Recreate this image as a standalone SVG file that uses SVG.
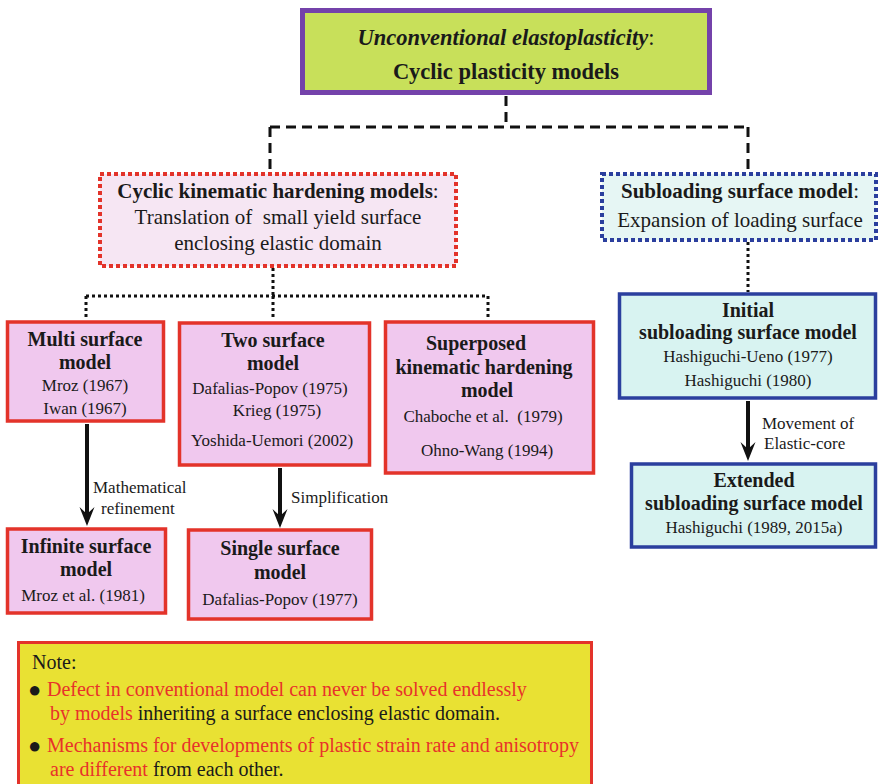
<svg xmlns="http://www.w3.org/2000/svg" width="880" height="784" viewBox="0 0 880 784" font-family="'Liberation Serif', 'DejaVu Serif', serif">
<defs>
<style>
text{font-family:'Liberation Serif','DejaVu Serif',serif;fill:#1a1a1a;text-anchor:middle}
.b{font-weight:bold}
.h{font-size:20px;font-weight:bold}
.t{font-size:17px}
.l{font-size:17px;text-anchor:start}
.n{font-size:20px;text-anchor:start}
.r{fill:#e8322a}
.pink{fill:#f0c8ee;stroke:#e3332a;stroke-width:3.5}
.cyan{fill:#d8f3f1;stroke:#2b3f9e;stroke-width:3.5}
.dash{fill:none;stroke:#111;stroke-width:3;stroke-dasharray:10 6}
.dot{fill:none;stroke:#111;stroke-width:3;stroke-dasharray:3 3}
.arr{stroke:#111;stroke-width:4;marker-end:url(#ah)}
</style>
<marker id="ah" markerUnits="userSpaceOnUse" markerWidth="20" markerHeight="18" viewBox="0 0 20 18" refX="7" refY="9" orient="auto">
<path d="M19 9 L0 1.5 L7 9 L0 16.5 Z" fill="#111"/>
</marker>
</defs>

<g id="connectors">
<path class="dash" d="M506 96 V127 M270 127 H748 M270 127 V170 M748 127 V170"/>
<path class="dot" d="M273 268 V296 M86 296 H488 M86 296 V320 M273 296 V320 M488 296 V320"/>
<path class="dot" d="M748 242 V292"/>
<line class="arr" x1="87" y1="424" x2="87" y2="514"/>
<line class="arr" x1="280" y1="468" x2="280" y2="516"/>
<line class="arr" x1="748" y1="401" x2="748" y2="449"/>
<text class="l" x="93" y="493">Mathematical</text>
<text class="l" x="101" y="514">refinement</text>
<text class="l" x="291" y="503">Simplification</text>
<text class="l" x="762" y="429">Movement of</text>
<text class="l" x="764" y="449">Elastic-core</text>
</g>

<g id="top">
<rect x="302.5" y="10.5" width="407" height="82" fill="#c8e05a" stroke="#7442aa" stroke-width="5"/>
<text x="506" y="45" style="font-size:22.5px"><tspan class="b" font-style="italic">Unconventional elastoplasticity</tspan>:</text>
<text class="b" x="506" y="79" style="font-size:22.5px">Cyclic plasticity models</text>
</g>

<g id="cyclic">
<rect x="100" y="174" width="356" height="92" fill="#f6e6f3" stroke="#e3332a" stroke-width="4" stroke-dasharray="4 3"/>
<text x="278" y="198" style="font-size:21px"><tspan class="b">Cyclic kinematic hardening models</tspan>:</text>
<text x="278" y="224" style="font-size:21px;white-space:pre">Translation of  small yield surface</text>
<text x="278" y="250" style="font-size:21px">enclosing elastic domain</text>
</g>

<g id="subloading">
<rect x="602" y="174" width="274" height="66" fill="#e6f6f4" stroke="#2b3f9e" stroke-width="4" stroke-dasharray="4 3"/>
<text x="740" y="198" style="font-size:21px"><tspan class="b">Subloading surface model</tspan>:</text>
<text x="740" y="227" style="font-size:21px">Expansion of loading surface</text>
</g>

<g id="multi">
<rect class="pink" x="7.5" y="322" width="156" height="99"/>
<text class="h" x="85" y="346">Multi surface</text>
<text class="h" x="85" y="369">model</text>
<text class="t" x="85" y="391">Mroz (1967)</text>
<text class="t" x="85" y="414">Iwan (1967)</text>
</g>

<g id="two">
<rect class="pink" x="179.5" y="323" width="190" height="142"/>
<text class="h" x="273" y="347">Two surface</text>
<text class="h" x="273" y="370">model</text>
<text class="t" x="270" y="394">Dafalias-Popov (1975)</text>
<text class="t" x="277" y="416">Krieg (1975)</text>
<text class="t" x="272" y="446">Yoshida-Uemori (2002)</text>
</g>

<g id="superposed">
<rect class="pink" x="385.5" y="322" width="208" height="151"/>
<text class="h" x="476" y="350">Superposed</text>
<text class="h" x="484" y="374">kinematic hardening</text>
<text class="h" x="487" y="397">model</text>
<text class="t" x="483" y="422" style="white-space:pre">Chaboche et al.  (1979)</text>
<text class="t" x="487" y="456">Ohno-Wang (1994)</text>
</g>

<g id="infinite">
<rect class="pink" x="7.5" y="529" width="158" height="84"/>
<text class="h" x="86" y="553">Infinite surface</text>
<text class="h" x="86" y="576">model</text>
<text class="t" x="83" y="601">Mroz et al. (1981)</text>
</g>

<g id="single">
<rect class="pink" x="188.5" y="530" width="183" height="89"/>
<text class="h" x="280" y="555">Single surface</text>
<text class="h" x="280" y="579">model</text>
<text class="t" x="280" y="605">Dafalias-Popov (1977)</text>
</g>

<g id="initial">
<rect class="cyan" x="619.5" y="294" width="256" height="104"/>
<text class="h" x="748" y="317">Initial</text>
<text class="h" x="748" y="339">subloading surface model</text>
<text class="t" x="748" y="362">Hashiguchi-Ueno (1977)</text>
<text class="t" x="748" y="386">Hashiguchi (1980)</text>
</g>

<g id="extended">
<rect class="cyan" x="631.5" y="464" width="244" height="83"/>
<text class="h" x="754" y="487">Extended</text>
<text class="h" x="754" y="510">subloading surface model</text>
<text class="t" x="754" y="533">Hashiguchi (1989, 2015a)</text>
</g>

<g id="note">
<rect x="18.5" y="642.5" width="573" height="150" fill="#e9e133" stroke="#e3332a" stroke-width="3"/>
<text class="n" x="32" y="669">Note:</text>
<text class="n" x="28" y="697" style="font-size:22px">●</text>
<text class="n r" x="47" y="696">Defect in conventional model can never be solved endlessly</text>
<text class="n" x="50" y="720"><tspan class="r">by models</tspan> inheriting a surface enclosing elastic domain.</text>
<text class="n" x="28" y="753" style="font-size:22px">●</text>
<text class="n r" x="47" y="752">Mechanisms for developments of plastic strain rate and anisotropy</text>
<text class="n" x="50" y="776"><tspan class="r">are different</tspan> from each other.</text>
</g>
</svg>
